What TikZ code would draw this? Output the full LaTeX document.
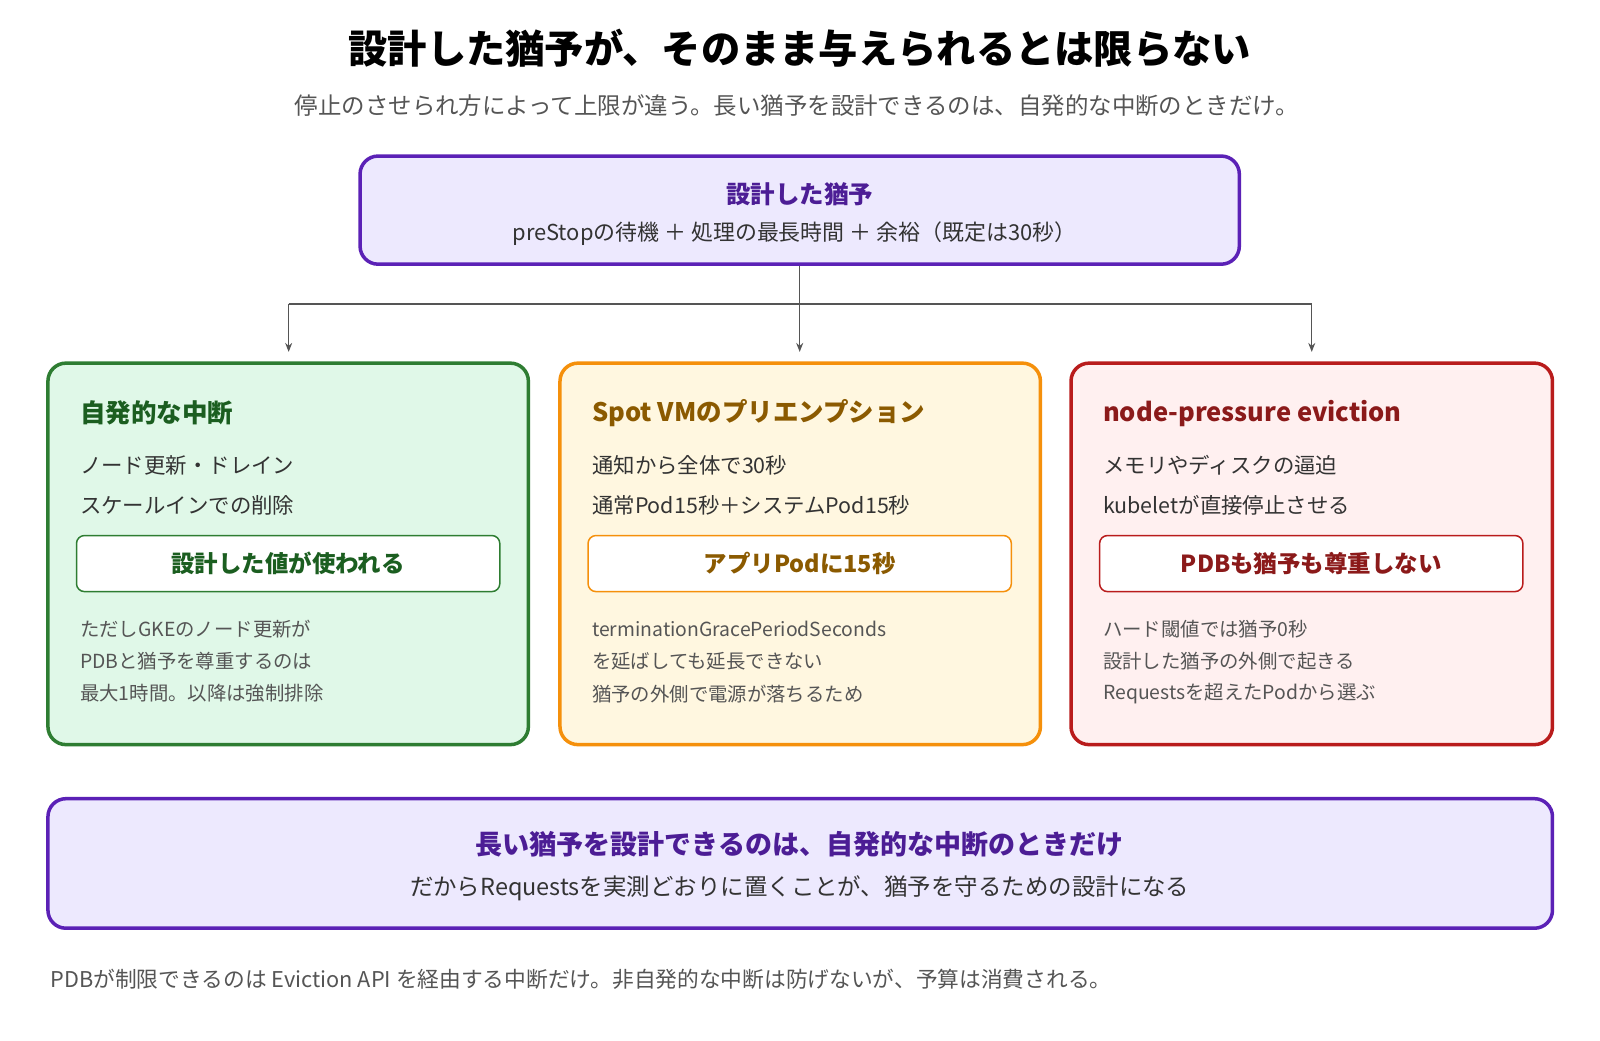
\documentclass[tikz,border=0pt]{standalone}
\usepackage{fontspec}
\setmainfont{Noto Sans CJK JP}
\usetikzlibrary{arrows.meta}
\definecolor{pb}{HTML}{5B21B6}\definecolor{pf}{HTML}{EDE9FE}\definecolor{pt}{HTML}{4C1D95}
\definecolor{gb}{HTML}{2E7D32}\definecolor{gf}{HTML}{E0F8E8}\definecolor{gt}{HTML}{1B5E20}
\definecolor{ob}{HTML}{F5900B}\definecolor{of}{HTML}{FFF7E0}\definecolor{ot}{HTML}{8B5A00}
\definecolor{rb}{HTML}{B91C1C}\definecolor{rf}{HTML}{FFF0F0}\definecolor{rt}{HTML}{8B1A1A}
\definecolor{tx}{HTML}{333333}\definecolor{mu}{HTML}{555555}
\begin{document}
\begin{tikzpicture}[x=1.02pt,y=-1.02pt, every node/.append style={scale=1.02},
 box/.style={draw, line width=3.5pt, rounded corners=18pt},
 inner/.style={draw, line width=1.5pt, rounded corners=8pt, fill=white},
 ttl/.style={anchor=west, font=\fontsize{25}{29}\selectfont\bfseries},
 bd/.style={anchor=west, text=tx, font=\fontsize{21}{24}\selectfont},
 sm/.style={anchor=west, text=mu, font=\fontsize{19}{22}\selectfont},
 arr/.style={draw=mu, line width=1.3pt, -{Stealth[length=9pt,width=7pt]}}]
\useasboundingbox (0,0) rectangle (1568.6,1019.6);
\fill[white] (0,0) rectangle (1568.6,1019.6);
\node (title) at (784,47) {\fontsize{38.5}{44}\selectfont\bfseries 設計した猶予が、そのまま与えられるとは限らない};
\node[text=mu] (sub) at (781,104) {\fontsize{23}{26}\selectfont 停止のさせられ方によって上限が違う。長い猶予を設計できるのは、自発的な中断のときだけ。};
% top box
\node[box, draw=pb, fill=pf, minimum width=862pt, minimum height=106pt] (top) at (784,206) {};
\node[text=pt] (toptt) at (784,190) {\fontsize{24}{28}\selectfont\bfseries 設計した猶予};
\node[text=tx] (topl) at (779,229) {\fontsize{21.5}{24}\selectfont preStopの待機 ＋ 処理の最長時間 ＋ 余裕（既定は30秒）};
% boxes
\node[box, draw=gb, fill=gf, minimum width=471pt, minimum height=374pt] (g) at (282.5,543) {};
\node[box, draw=ob, fill=of, minimum width=471pt, minimum height=374pt] (o) at (784.5,543) {};
\node[box, draw=rb, fill=rf, minimum width=472pt, minimum height=374pt] (r) at (1286,543) {};
% connectors
\coordinate (j) at (784,298);
\coordinate (jl) at (283,298);\coordinate (jr) at (1286,298);
\draw[draw=mu, line width=1.3pt] (top.south) -- (j) (jl) -- (jr);
\draw[arr] (jl) -- (283,345);
\draw[arr] (j) -- (784,345);
\draw[arr] (jr) -- (1286,345);
% green
\node[ttl, text=gt] (g1) at (75,405) {自発的な中断};
\node[bd] (g2) at (75,456) {ノード更新・ドレイン};
\node[bd] (g3) at (75,495) {スケールインでの削除};
\node[inner, draw=gb, minimum width=415pt, minimum height=55pt, text=gt] (gi) at (282.5,552.5) {\fontsize{23}{26}\selectfont\bfseries 設計した値が使われる};
\node[sm] (g4) at (75,617) {ただしGKEのノード更新が};
\node[sm] (g5) at (75,648) {PDBと猶予を尊重するのは};
\node[sm] (g6) at (75,680) {最大1時間。以降は強制排除};
% orange
\node[ttl, text=ot] (o1) at (577,405) {Spot VMのプリエンプション};
\node[bd] (o2) at (577,456) {通知から全体で30秒};
\node[bd] (o3) at (577,495) {通常Pod15秒＋システムPod15秒};
\node[inner, draw=ob, minimum width=415pt, minimum height=55pt, text=ot] (oi) at (784,552.5) {\fontsize{23}{26}\selectfont\bfseries アプリPodに15秒};
\node[sm] (o4) at (577,617) {terminationGracePeriodSeconds};
\node[sm] (o5) at (577,648) {を延ばしても延長できない};
\node[sm] (o6) at (577,680) {猶予の外側で電源が落ちるため};
% red
\node[ttl, text=rt] (r1) at (1078,405) {node-pressure eviction};
\node[bd] (r2) at (1078,456) {メモリやディスクの逼迫};
\node[bd] (r3) at (1078,495) {kubeletが直接停止させる};
\node[inner, draw=rb, minimum width=415pt, minimum height=55pt, text=rt] (ri) at (1285.5,552.5) {\fontsize{23}{26}\selectfont\bfseries PDBも猶予も尊重しない};
\node[sm] (r4) at (1078,617) {ハード閾値では猶予0秒};
\node[sm] (r5) at (1078,648) {設計した猶予の外側で起きる};
\node[sm] (r6) at (1078,680) {Requestsを超えたPodから選ぶ};
% bottom
\node[box, draw=pb, fill=pf, minimum width=1475pt, minimum height=127pt] (bot) at (784.5,846.5) {};
\node[text=pt] (b1) at (784,828) {\fontsize{26.5}{30}\selectfont\bfseries 長い猶予を設計できるのは、自発的な中断のときだけ};
\node[text=tx] (b2) at (784,871) {\fontsize{23}{26}\selectfont だからRequestsを実測どおりに置くことが、猶予を守るための設計になる};
\node[anchor=west, text=mu] (foot) at (46,960) {\fontsize{21.3}{24}\selectfont PDBが制限できるのは Eviction API を経由する中断だけ。非自発的な中断は防げないが、予算は消費される。};
\end{tikzpicture}
\end{document}
